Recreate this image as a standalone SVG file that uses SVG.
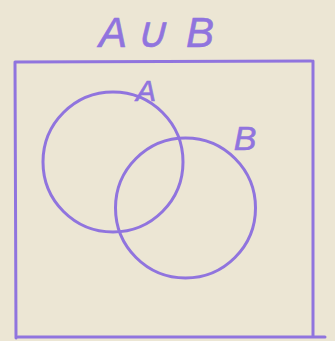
<svg xmlns="http://www.w3.org/2000/svg" width="335" height="341" viewBox="0 0 335 341">
<style>
.ink{fill:none;stroke:#9074de;stroke-width:3;stroke-linecap:round}
.lbl{fill:#9074de;stroke:#9074de;stroke-width:0.6;font-family:"Liberation Sans",Arial,sans-serif;font-style:italic;text-anchor:middle}
</style>
<rect width="335" height="341" fill="#ece6d4"/>
<g id="title"><text class="lbl" font-size="42" y="47"><tspan x="113">A</tspan><tspan x="150">∪</tspan><tspan x="200">B</tspan></text></g>
<g id="universe"><path class="ink" d="M15,62 L311,61 M313,61 L313,337 M15,62 L16,338 M18,337 L325,337"/></g>
<g id="setA"><circle class="ink" cx="113" cy="162" r="70"/><text class="lbl" x="146" y="101" font-size="30">A</text></g>
<g id="setB"><circle class="ink" cx="185.5" cy="208" r="70"/><text class="lbl" x="245" y="150" font-size="34">B</text></g>
</svg>
